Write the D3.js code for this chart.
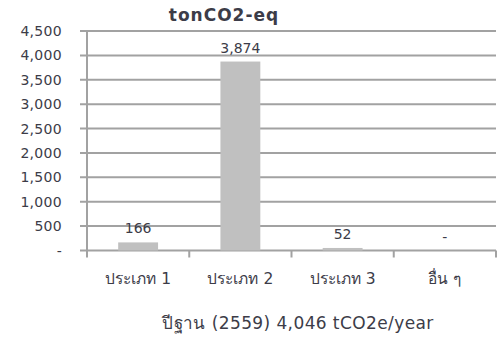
<!DOCTYPE html>
<html>
<head>
<meta charset="utf-8">
<script src="https://cdn.jsdelivr.net/npm/d3@7"></script>
<style>
  html, body { margin: 0; padding: 0; background: #fff; }
  svg { display: block; }
  text { font-family: "DejaVu Sans", Tahoma, sans-serif; fill: #3c3c48; }
</style>
</head>
<body>
<svg id="chart" width="497" height="343"></svg>
<script>
// Emissions by category (tonCO2-eq)
const categories = ["ประเภท 1", "ประเภท 2", "ประเภท 3", "อื่น ๆ"];
const values = [166, 3874, 52, 0];
const yTicks = [0, 500, 1000, 1500, 2000, 2500, 3000, 3500, 4000, 4500];
const title = "tonCO2-eq";
const footnote = "ปีฐาน (2559) 4,046 tCO2e/year";

const svg = d3.select("#chart");
const plot = { left: 87, right: 496, top: 31, bottom: 250.5 };
const gridColor = "#a2a2a2";

const x = d3.scaleBand().domain(categories).range([plot.left, plot.right]).padding(0);
const y = d3.scaleLinear().domain([0, 4500]).range([plot.bottom, plot.top]);

const fmt = v => v === 0 ? "-" : d3.format(",")(v);

// horizontal gridlines with outward tick stubs
svg.append("g")
  .selectAll("line")
  .data(yTicks)
  .join("line")
  .attr("x1", plot.left - 7).attr("x2", plot.right)
  .attr("y1", d => y(d)).attr("y2", d => y(d))
  .attr("stroke", gridColor).attr("stroke-width", 2);

// y tick labels
svg.append("g")
  .selectAll("text")
  .data(yTicks)
  .join("text")
  .attr("x", 62).attr("y", d => y(d))
  .attr("dy", "0.36em")
  .attr("text-anchor", "end")
  .attr("font-size", 14)
  .attr("letter-spacing", 0.3)
  .text(fmt);

// vertical axis line
svg.append("line")
  .attr("x1", plot.left).attr("x2", plot.left)
  .attr("y1", plot.top).attr("y2", plot.bottom + 7)
  .attr("stroke", gridColor).attr("stroke-width", 2);

// category tick marks at band boundaries
const bounds = categories.map(c => x(c)).concat([plot.right]).slice(1);
svg.append("g")
  .selectAll("line")
  .data(bounds)
  .join("line")
  .attr("x1", d => d).attr("x2", d => d)
  .attr("y1", plot.bottom).attr("y2", plot.bottom + 7)
  .attr("stroke", gridColor).attr("stroke-width", 2);

// bars
const barW = x.bandwidth() * 0.39;
svg.append("g")
  .selectAll("rect")
  .data(values)
  .join("rect")
  .attr("x", (d, i) => x(categories[i]) + x.bandwidth() / 2 - barW / 2)
  .attr("width", barW)
  .attr("y", d => y(d))
  .attr("height", d => y(0) - y(d))
  .attr("fill", "#c0c0c0");

// value labels
svg.append("g")
  .selectAll("text")
  .data(values)
  .join("text")
  .attr("x", (d, i) => x(categories[i]) + x.bandwidth() / 2)
  .attr("y", d => y(d) - 9)
  .attr("text-anchor", "middle")
  .attr("font-size", 14)
  .text(fmt);

// category labels
svg.append("g")
  .selectAll("text")
  .data(categories)
  .join("text")
  .attr("x", d => x(d) + x.bandwidth() / 2)
  .attr("y", 284)
  .attr("text-anchor", "middle")
  .attr("font-size", 15.5)
  .text(d => d);

// title
svg.append("text")
  .attr("x", 224).attr("y", 21)
  .attr("text-anchor", "middle")
  .attr("font-size", 17)
  .attr("font-weight", "bold")
  .attr("letter-spacing", 1)
  .attr("fill", "#2c2c36")
  .text(title);

// footnote
svg.append("text")
  .attr("x", 298).attr("y", 329)
  .attr("text-anchor", "middle")
  .attr("font-size", 17)
  .attr("letter-spacing", 0.4)
  .text(footnote);
</script>
</body>
</html>
